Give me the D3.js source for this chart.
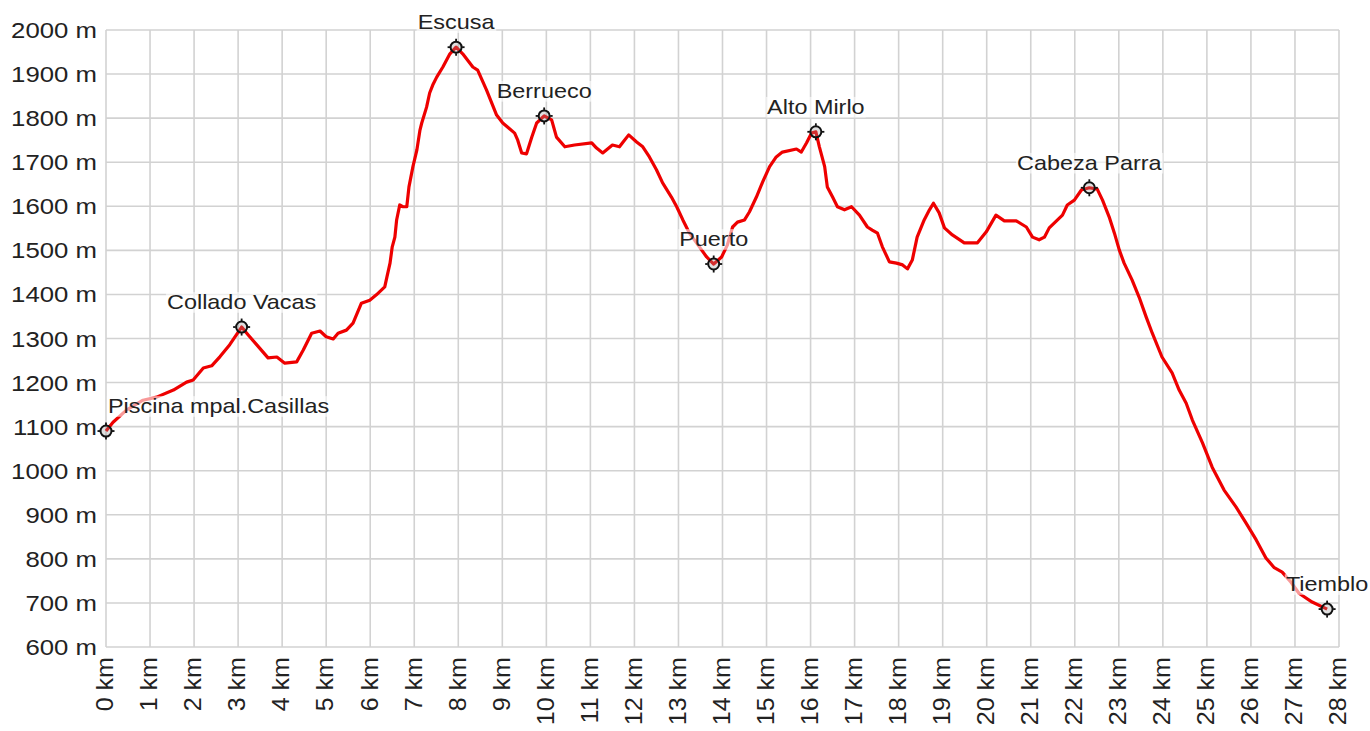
<!DOCTYPE html>
<html><head><meta charset="utf-8">
<script src="https://cdn.jsdelivr.net/npm/d3@7"></script>
<style>body{margin:0;background:#fff}svg{display:block}text{font-family:"Liberation Sans",Arial,sans-serif;fill:#222}</style>
</head><body><svg id="c" width="1370" height="731"></svg>
<script>
const distKm = [0,0.16,0.47,0.84,1.15,1.53,1.83,1.98,2.21,2.4,2.59,2.81,2.96,3.08,3.23,3.42,3.68,3.88,4.06,4.33,4.48,4.67,4.86,5.0,5.16,5.27,5.46,5.61,5.8,5.99,6.14,6.33,6.38,6.45,6.5,6.56,6.6,6.67,6.74,6.83,6.88,6.97,7.06,7.13,7.17,7.28,7.35,7.42,7.51,7.65,7.81,7.95,8.1,8.33,8.44,8.64,8.87,9.01,9.28,9.35,9.44,9.55,9.67,9.78,9.95,10.12,10.23,10.42,10.64,11.03,11.14,11.28,11.5,11.66,11.73,11.87,12.05,12.19,12.34,12.5,12.64,12.84,12.96,13.1,13.25,13.41,13.64,13.8,13.98,14.11,14.23,14.34,14.5,14.61,14.77,14.91,15.07,15.22,15.36,15.68,15.79,15.91,16.02,16.12,16.2,16.32,16.38,16.5,16.61,16.77,16.93,17.11,17.29,17.4,17.52,17.63,17.79,17.95,18.09,18.2,18.31,18.42,18.58,18.7,18.79,18.92,19.04,19.22,19.49,19.79,19.99,20.21,20.4,20.67,20.9,21.04,21.19,21.31,21.42,21.72,21.83,21.99,22.15,22.33,22.51,22.63,22.78,22.9,23.01,23.12,23.3,23.46,23.62,23.76,23.98,24.21,24.37,24.53,24.67,24.9,25.12,25.39,25.66,25.89,26.12,26.34,26.53,26.71,26.91,27.09,27.39,27.73];
const elevM = [1090,1110,1138,1160,1167,1183,1201,1206,1233,1238,1259,1286,1308,1326,1308,1286,1256,1258,1244,1247,1274,1312,1317,1304,1299,1312,1319,1335,1380,1387,1399,1417,1440,1471,1508,1530,1569,1603,1599,1599,1644,1690,1728,1773,1789,1825,1857,1875,1893,1916,1946,1961,1946,1916,1909,1864,1807,1789,1766,1750,1721,1719,1757,1789,1805,1796,1757,1735,1739,1744,1732,1721,1739,1735,1744,1762,1746,1735,1712,1683,1653,1621,1599,1569,1539,1517,1485,1469,1485,1512,1553,1564,1569,1587,1621,1655,1690,1712,1723,1730,1723,1744,1766,1769,1735,1690,1644,1621,1599,1592,1599,1580,1553,1546,1539,1508,1474,1471,1467,1458,1478,1530,1569,1592,1607,1585,1551,1535,1517,1517,1542,1580,1567,1567,1553,1530,1524,1530,1551,1580,1603,1614,1637,1642,1639,1614,1576,1539,1501,1471,1433,1394,1349,1312,1258,1222,1183,1153,1115,1063,1008,956,918,881,843,802,780,770,747,722,702,686];
const wpNames = ["Piscina mpal.Casillas","Collado Vacas","Escusa","Berrueco","Puerto","Alto Mirlo","Cabeza Parra","Tiemblo"];
const wpKm = [0,3.08,7.95,9.95,13.8,16.12,22.33,27.73];
const wpElev = [1090,1326,1961,1805,1469,1769,1642,686];
const xTicks = d3.range(0,29);
const yTicks = d3.range(600,2001,100);

const svg = d3.select("#c");
const x = d3.scaleLinear().domain([0,28]).range([106,1339]);
const y = d3.scaleLinear().domain([600,2000]).range([647,30]);
const gridC = "#d2d2d2";

const g = svg.append("g");
g.selectAll("line.v").data(xTicks).join("line")
  .attr("x1",d=>x(d)).attr("x2",d=>x(d)).attr("y1",y(2000)).attr("y2",y(600))
  .attr("stroke",gridC).attr("stroke-width",1.6);
g.selectAll("line.h").data(yTicks).join("line")
  .attr("x1",x(0)).attr("x2",x(28)).attr("y1",d=>y(d)).attr("y2",d=>y(d))
  .attr("stroke",gridC).attr("stroke-width",1.6);

svg.append("g").selectAll("text").data(yTicks).join("text")
  .attr("transform",d=>`translate(97,${y(d)}) scale(1.12,1)`)
  .attr("text-anchor","end").attr("dy","0.35em")
  .style("font-size","23px").text(d=>d+" m");
svg.append("g").selectAll("text").data(xTicks).join("text")
  .attr("transform",d=>`translate(${x(d)-1},657) rotate(-90) scale(1.09,1)`)
  .attr("text-anchor","end").attr("dy","0.36em")
  .style("font-size","23px").text(d=>d+" km");

const pts = distKm.map((d,i)=>[d,elevM[i]]);
svg.append("path").datum(pts)
  .attr("d",d3.line().x(d=>x(d[0])).y(d=>y(d[1])))
  .attr("fill","none").attr("stroke","#ee0000").attr("stroke-width",3.2)
  .attr("stroke-linejoin","round");

const wps = wpNames.map((n,i)=>({n,k:wpKm[i],e:wpElev[i],start:i===0}));
const lg = svg.append("g");
wps.forEach(w=>{
  const px = w.start ? x(w.k)+2 : x(w.k);
  const gg = lg.append("g").attr("transform",`translate(${px},${y(w.e)-18}) scale(1.115,1)`);
  const r = gg.append("rect").attr("fill","#fff").attr("fill-opacity",0.6);
  const t = gg.append("text").attr("text-anchor",w.start?"start":"middle")
    .style("font-size","21px").text(w.n);
  const b = t.node().getBBox();
  r.attr("x",b.x-1).attr("y",b.y+2).attr("width",b.width+2).attr("height",b.height-3);
});
const mg = svg.append("g");
wps.forEach(w=>{
  const m = mg.append("g").attr("transform",`translate(${x(w.k)},${y(w.e)})`);
  m.append("circle").attr("r",5.5).attr("fill","rgba(150,150,150,0.3)").attr("stroke","#111").attr("stroke-width",2);
  [0,90,180,270].forEach(a=>{
    m.append("line").attr("x1",0).attr("x2",0).attr("y1",-6).attr("y2",-8.5)
      .attr("stroke","#111").attr("stroke-width",1.8).attr("transform",`rotate(${a})`);
  });
});
</script></body></html>
